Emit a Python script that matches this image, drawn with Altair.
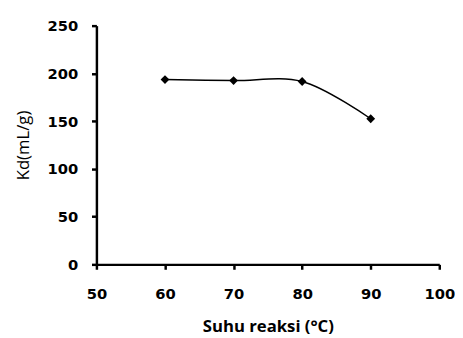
import altair as alt
import pandas as pd

suhu = [60, 70, 80, 90]
kd = [193.5, 192.5, 191.5, 152.5]

df = pd.DataFrame({"suhu": suhu, "kd": kd})

x = alt.X("suhu:Q", title="Suhu reaksi (°C)",
          scale=alt.Scale(domain=[50, 100], nice=False, zero=False),
          axis=alt.Axis(values=[50, 60, 70, 80, 90, 100], grid=False,
                        domainColor="black", domainWidth=2.5, tickColor="black",
                        tickWidth=2.5, tickSize=5, labelPadding=18,
                        labelFont="DejaVu Sans", labelFontSize=15, labelFontWeight="bold",
                        labelColor="black", titleFont="Open Sans", titleFontSize=17,
                        titleFontWeight="bold", titleColor="black", titlePadding=17,
                        labelFlush=False))
y = alt.Y("kd:Q", title="Kd(mL/g)",
          scale=alt.Scale(domain=[0, 250], nice=False),
          axis=alt.Axis(values=[0, 50, 100, 150, 200, 250], grid=False,
                        domainColor="black", domainWidth=2.5, tickColor="black",
                        tickWidth=2.5, tickSize=5, labelPadding=14,
                        labelFont="DejaVu Sans", labelFontSize=15, labelFontWeight="bold",
                        labelColor="black", titleFont="Open Sans", titleFontSize=17,
                        titleFontWeight="normal", titleColor="black", titlePadding=15))

line = alt.Chart(df).mark_line(interpolate="catmull-rom", color="black", strokeWidth=1.5).encode(x=x, y=y)
pts = alt.Chart(df).mark_point(shape="diamond", filled=True, color="black", size=80, opacity=1).encode(x=x, y=y)

chart = (line + pts).properties(
    width=349, height=243,
    autosize=alt.AutoSizeParams(type="none"),
    padding={"left": 90, "top": 15, "right": 16, "bottom": 72},
).configure_view(stroke=None)

chart.save("out.html", embed_options={"renderer": "svg", "actions": False})
